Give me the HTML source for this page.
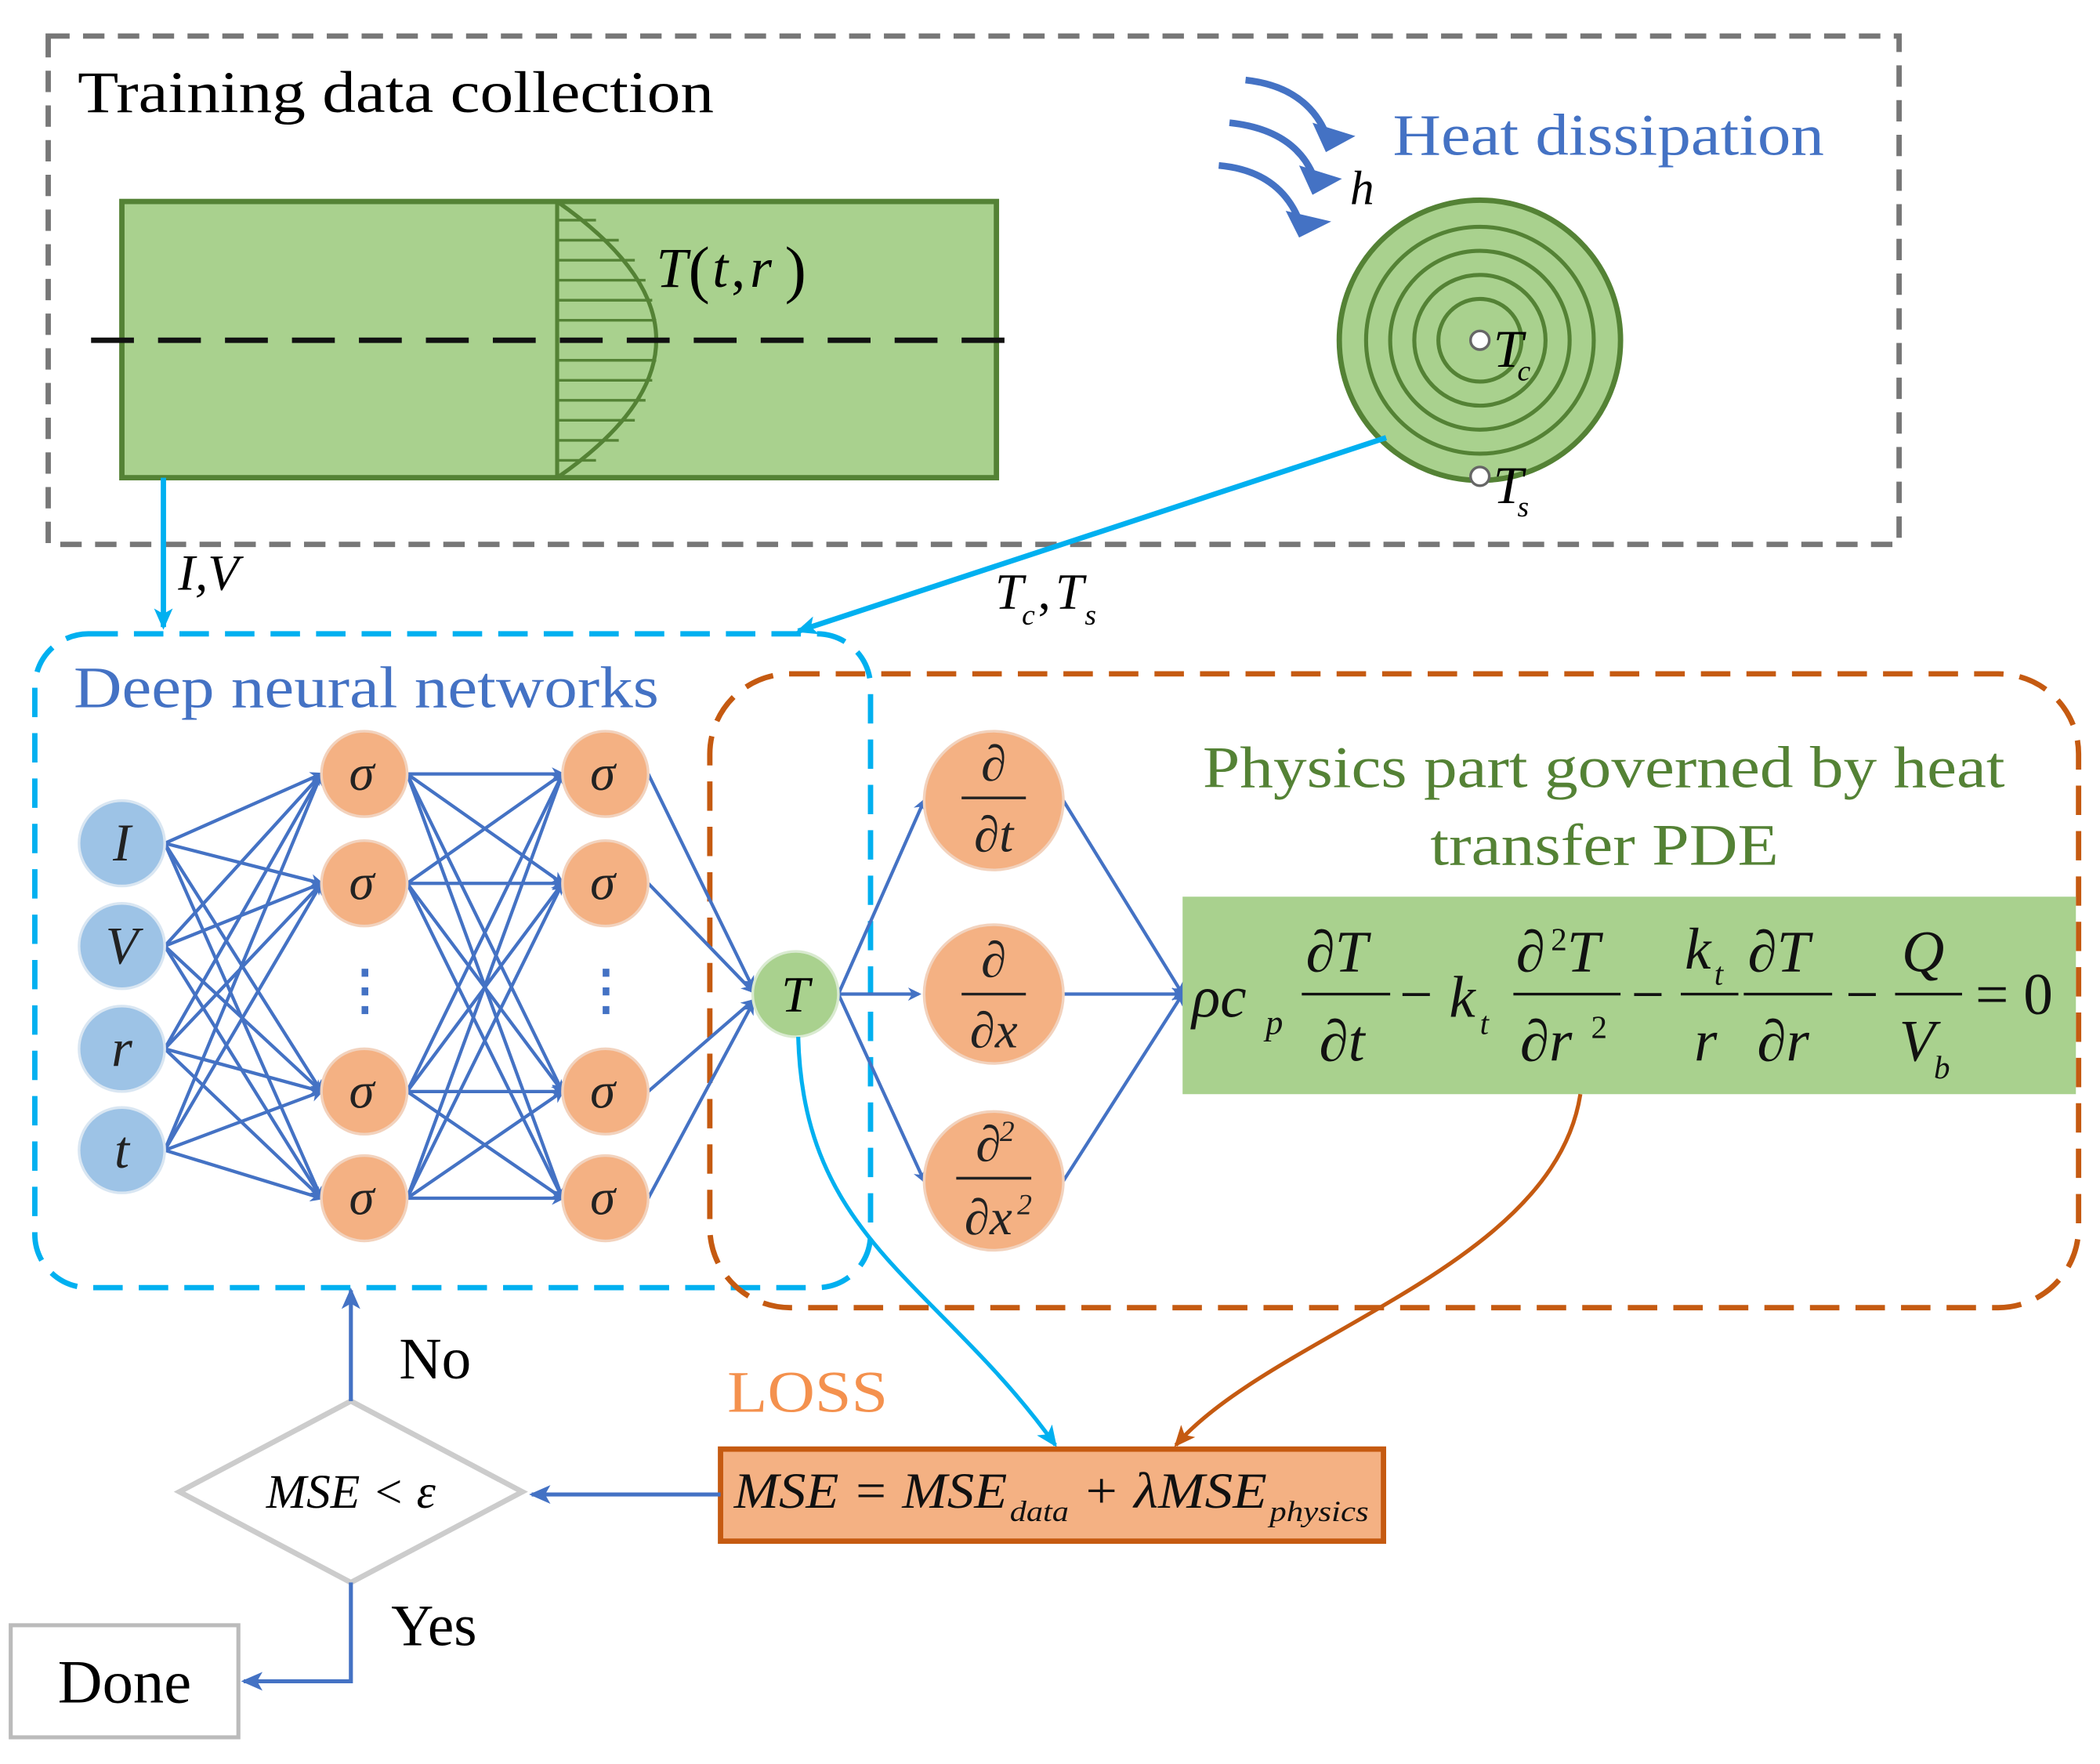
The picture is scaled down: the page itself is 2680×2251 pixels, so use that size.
<!DOCTYPE html>
<html><head><meta charset="utf-8"><style>
html,body{margin:0;padding:0;background:#fff}
svg{display:block}
text{font-family:"Liberation Serif",serif}
.it{font-style:italic}
</style></head><body>
<svg width="2680" height="2251" viewBox="0 0 1568 1322" preserveAspectRatio="none" xmlns="http://www.w3.org/2000/svg">
<defs>
<marker id="ab" markerWidth="10" markerHeight="10" refX="8" refY="5" orient="auto" markerUnits="userSpaceOnUse"><path d="M0,0 L10,5 L0,10 L3,5Z" fill="#4472c4"/></marker>
<marker id="ac" markerWidth="16" markerHeight="14" refX="14" refY="7" orient="auto" markerUnits="userSpaceOnUse"><path d="M0,0 L16,7 L0,14 L4,7Z" fill="#00b0f0"/></marker>
<marker id="ao" markerWidth="16" markerHeight="14" refX="14" refY="7" orient="auto" markerUnits="userSpaceOnUse"><path d="M0,0 L16,7 L0,14 L4,7Z" fill="#c55a11"/></marker>
<marker id="ab2" markerWidth="16" markerHeight="14" refX="14" refY="7" orient="auto" markerUnits="userSpaceOnUse"><path d="M0,0 L16,7 L0,14 L4,7Z" fill="#4472c4"/></marker>
</defs>
<rect width="1568" height="1322" fill="#fff"/>
<rect x="36" y="27" width="1382" height="381" fill="none" stroke="#777" stroke-width="4" stroke-dasharray="16,10"/>
<text x="58" y="84" font-size="44" textLength="475" lengthAdjust="spacingAndGlyphs">Training data collection</text>
<rect x="91" y="151" width="653" height="207" fill="#a9d18e" stroke="#548235" stroke-width="4"/>
<g stroke="#548235" stroke-width="2">
<line x1="416" y1="165" x2="445" y2="165"/><line x1="416" y1="180" x2="462" y2="180"/><line x1="416" y1="195" x2="474" y2="195"/><line x1="416" y1="210" x2="482" y2="210"/><line x1="416" y1="225" x2="487" y2="225"/><line x1="416" y1="240" x2="490" y2="240"/><line x1="416" y1="270" x2="490" y2="270"/><line x1="416" y1="285" x2="487" y2="285"/><line x1="416" y1="300" x2="482" y2="300"/><line x1="416" y1="315" x2="474" y2="315"/><line x1="416" y1="330" x2="462" y2="330"/><line x1="416" y1="345" x2="445" y2="345"/>
</g>
<line x1="416" y1="151" x2="416" y2="358" stroke="#548235" stroke-width="3"/>
<path d="M416,151 Q564,255 416,358" fill="none" stroke="#548235" stroke-width="3"/>
<line x1="68" y1="255" x2="768" y2="255" stroke="#111" stroke-width="4" stroke-dasharray="32,18"/>
<text x="490" y="215" font-size="42" class="it">T</text><text x="514" y="218" font-size="48">(</text><text x="532" y="215" font-size="42" class="it">t</text><text x="546" y="215" font-size="42">,</text><text x="560" y="215" font-size="42" class="it">r</text><text x="586" y="218" font-size="48">)</text>
<circle cx="1105" cy="255" r="105" fill="#a9d18e" stroke="#548235" stroke-width="4"/>
<g fill="none" stroke="#548235" stroke-width="3">
<circle cx="1105" cy="255" r="85"/><circle cx="1105" cy="255" r="67"/><circle cx="1105" cy="255" r="49"/><circle cx="1105" cy="255" r="31"/></g>
<circle cx="1105" cy="255" r="7" fill="#fff" stroke="#666" stroke-width="2"/>
<circle cx="1105" cy="357" r="7" fill="#fff" stroke="#666" stroke-width="2"/>
<text x="1115" y="275" font-size="40" class="it">T</text><text x="1133" y="285" font-size="22" class="it">c</text>
<text x="1115" y="377" font-size="40" class="it">T</text><text x="1133" y="387" font-size="22" class="it">s</text>
<g fill="none" stroke="#4472c4" stroke-width="5">
<path d="M930,60 Q975,65 990,100"/><path d="M918,92 Q965,97 980,130"/><path d="M910,124 Q955,128 970,165"/></g>
<path d="M980,92 L1012,102 L990,114Z" fill="#4472c4"/><path d="M970,124 L1002,134 L980,146Z" fill="#4472c4"/><path d="M960,158 L994,166 L970,178Z" fill="#4472c4"/>
<text x="1040" y="116" font-size="44" fill="#4472c4" textLength="322" lengthAdjust="spacingAndGlyphs">Heat dissipation</text>
<text x="1008" y="153" font-size="36" class="it">h</text>
<line x1="122" y1="358" x2="122" y2="470" stroke="#00b0f0" stroke-width="4" marker-end="url(#ac)"/>
<text x="133" y="442" font-size="38" class="it">I,V</text>
<line x1="1035" y1="328" x2="596" y2="473" stroke="#00b0f0" stroke-width="4" marker-end="url(#ac)"/>
<text x="743" y="456" font-size="38" class="it">T</text><text x="763" y="468" font-size="22" class="it">c</text><text x="775" y="456" font-size="38">,</text><text x="788" y="456" font-size="38" class="it">T</text><text x="810" y="468" font-size="22" class="it">s</text>
<rect x="26" y="475" width="624" height="490" rx="40" fill="none" stroke="#00b0f0" stroke-width="4" stroke-dasharray="22,12"/>
<text x="55" y="530" font-size="44" fill="#4472c4" textLength="437" lengthAdjust="spacingAndGlyphs">Deep neural networks</text>
<rect x="530" y="505" width="1022" height="475" rx="60" fill="none" stroke="#c55a11" stroke-width="4" stroke-dasharray="22,12"/>
<text x="898" y="590" font-size="44" fill="#548235" textLength="599" lengthAdjust="spacingAndGlyphs">Physics part governed by heat</text>
<text x="1068" y="648" font-size="44" fill="#548235" textLength="260" lengthAdjust="spacingAndGlyphs">transfer PDE</text>
<g stroke="#4472c4" stroke-width="2.5" marker-end="url(#ab)">
<line x1="123" y1="632" x2="240" y2="580"/><line x1="123" y1="632" x2="240" y2="662"/><line x1="123" y1="632" x2="240" y2="818"/><line x1="123" y1="632" x2="240" y2="898"/>
<line x1="123" y1="709" x2="240" y2="580"/><line x1="123" y1="709" x2="240" y2="662"/><line x1="123" y1="709" x2="240" y2="818"/><line x1="123" y1="709" x2="240" y2="898"/>
<line x1="123" y1="786" x2="240" y2="580"/><line x1="123" y1="786" x2="240" y2="662"/><line x1="123" y1="786" x2="240" y2="818"/><line x1="123" y1="786" x2="240" y2="898"/>
<line x1="123" y1="862" x2="240" y2="580"/><line x1="123" y1="862" x2="240" y2="662"/><line x1="123" y1="862" x2="240" y2="818"/><line x1="123" y1="862" x2="240" y2="898"/>
<line x1="304" y1="580" x2="420" y2="580"/><line x1="304" y1="580" x2="420" y2="662"/><line x1="304" y1="580" x2="420" y2="818"/><line x1="304" y1="580" x2="420" y2="898"/>
<line x1="304" y1="662" x2="420" y2="580"/><line x1="304" y1="662" x2="420" y2="662"/><line x1="304" y1="662" x2="420" y2="818"/><line x1="304" y1="662" x2="420" y2="898"/>
<line x1="304" y1="818" x2="420" y2="580"/><line x1="304" y1="818" x2="420" y2="662"/><line x1="304" y1="818" x2="420" y2="818"/><line x1="304" y1="818" x2="420" y2="898"/>
<line x1="304" y1="898" x2="420" y2="580"/><line x1="304" y1="898" x2="420" y2="662"/><line x1="304" y1="898" x2="420" y2="818"/><line x1="304" y1="898" x2="420" y2="898"/>
<line x1="484" y1="580" x2="562" y2="740"/><line x1="484" y1="662" x2="562" y2="743"/><line x1="484" y1="818" x2="562" y2="750"/><line x1="484" y1="898" x2="562" y2="752"/>
<line x1="626" y1="745" x2="690" y2="600"/><line x1="626" y1="745" x2="686" y2="745"/><line x1="626" y1="745" x2="690" y2="885"/>
<line x1="794" y1="600" x2="883" y2="745"/><line x1="794" y1="745" x2="883" y2="745"/><line x1="794" y1="885" x2="883" y2="745"/>
</g>
<g fill="#9dc3e6" stroke="#d9e6f2" stroke-width="2">
<circle cx="91" cy="632" r="32"/><circle cx="91" cy="709" r="32"/><circle cx="91" cy="786" r="32"/><circle cx="91" cy="862" r="32"/></g>
<g font-size="40" class="it" text-anchor="middle" fill="#222">
<text x="91" y="645">I</text><text x="91" y="722">V</text><text x="91" y="799">r</text><text x="91" y="875">t</text></g>
<g fill="#f4b183" stroke="#f2d2bd" stroke-width="2">
<circle cx="272" cy="580" r="32"/><circle cx="272" cy="662" r="32"/><circle cx="272" cy="818" r="32"/><circle cx="272" cy="898" r="32"/>
<circle cx="452" cy="580" r="32"/><circle cx="452" cy="662" r="32"/><circle cx="452" cy="818" r="32"/><circle cx="452" cy="898" r="32"/>
<circle cx="742" cy="600" r="52"/><circle cx="742" cy="745" r="52"/><circle cx="742" cy="885" r="52"/></g>
<g font-size="38" class="it" text-anchor="middle" fill="#222">
<text x="270" y="592">σ</text><text x="270" y="674">σ</text><text x="270" y="830">σ</text><text x="270" y="910">σ</text>
<text x="450" y="592">σ</text><text x="450" y="674">σ</text><text x="450" y="830">σ</text><text x="450" y="910">σ</text></g>
<g fill="#4472c4"><rect x="270" y="726" width="5" height="6"/><rect x="270" y="740" width="5" height="6"/><rect x="270" y="754" width="5" height="6"/>
<rect x="450" y="726" width="5" height="6"/><rect x="450" y="740" width="5" height="6"/><rect x="450" y="754" width="5" height="6"/></g>
<circle cx="594" cy="745" r="32" fill="#a9d18e" stroke="#d9ead0" stroke-width="2"/>
<text x="594" y="758" font-size="38" class="it" text-anchor="middle">T</text>
<g font-size="38" class="it" text-anchor="middle" fill="#222">
<text x="742" y="585">∂</text><line x1="718" y1="598" x2="766" y2="598" stroke="#222" stroke-width="2"/><text x="742" y="638">∂t</text>
<text x="742" y="732">∂</text><line x1="718" y1="745" x2="766" y2="745" stroke="#222" stroke-width="2"/><text x="742" y="785">∂x</text>
<text x="738" y="870">∂</text><text x="752" y="855" font-size="22">2</text><line x1="714" y1="883" x2="770" y2="883" stroke="#222" stroke-width="2"/><text x="738" y="925">∂x</text><text x="765" y="910" font-size="22">2</text></g>
<rect x="883" y="672" width="667" height="148" fill="#a9d18e"/>
<g font-size="44" class="it" fill="#111">
<text x="890" y="762">ρc</text><text x="945" y="775" font-size="26">p</text>
<text x="975" y="728">∂T</text><line x1="972" y1="745" x2="1038" y2="745" stroke="#111" stroke-width="2"/><text x="985" y="795">∂t</text>
<text x="1045" y="760" font-style="normal">−</text><text x="1082" y="762">k</text><text x="1105" y="775" font-size="24">t</text>
<text x="1132" y="728">∂</text><text x="1158" y="712" font-size="24" font-style="normal">2</text><text x="1170" y="728">T</text>
<line x1="1130" y1="745" x2="1210" y2="745" stroke="#111" stroke-width="2"/><text x="1135" y="795">∂r</text><text x="1188" y="778" font-size="24" font-style="normal">2</text>
<text x="1218" y="760" font-style="normal">−</text>
<text x="1258" y="726">k</text><text x="1280" y="738" font-size="24">t</text><line x1="1255" y1="745" x2="1298" y2="745" stroke="#111" stroke-width="2"/><text x="1265" y="795">r</text>
<text x="1305" y="728">∂T</text><line x1="1302" y1="745" x2="1368" y2="745" stroke="#111" stroke-width="2"/><text x="1312" y="795">∂r</text>
<text x="1378" y="760" font-style="normal">−</text>
<text x="1420" y="728">Q</text><line x1="1415" y1="745" x2="1465" y2="745" stroke="#111" stroke-width="2"/><text x="1418" y="795">V</text><text x="1444" y="808" font-size="24">b</text>
<text x="1475" y="760" font-style="normal">= 0</text></g>
<path d="M596,777 C600,930 700,960 788,1083" fill="none" stroke="#00b0f0" stroke-width="3" marker-end="url(#ac)"/>
<path d="M1180,820 C1160,950 950,1000 878,1083" fill="none" stroke="#c55a11" stroke-width="3" marker-end="url(#ao)"/>
<text x="543" y="1058" font-size="44" fill="#f4914e" textLength="120" lengthAdjust="spacingAndGlyphs">LOSS</text>
<rect x="538" y="1086" width="495" height="69" fill="#f4b183" stroke="#c55a11" stroke-width="4"/>
<g font-size="38" class="it" fill="#111">
<text x="548" y="1130" textLength="204" lengthAdjust="spacingAndGlyphs">MSE = MSE</text><text x="754" y="1140" font-size="22" textLength="44" lengthAdjust="spacingAndGlyphs">data</text><text x="808" y="1130" textLength="138" lengthAdjust="spacingAndGlyphs">+ λMSE</text><text x="948" y="1140" font-size="22" textLength="74" lengthAdjust="spacingAndGlyphs">physics</text></g>
<line x1="538" y1="1120" x2="397" y2="1120" stroke="#4472c4" stroke-width="3" marker-end="url(#ab2)"/>
<polygon points="262,1050 390,1118 262,1186 134,1118" fill="#fff" stroke="#ccc" stroke-width="4"/>
<text x="262" y="1130" font-size="36" class="it" text-anchor="middle">MSE &lt; ε</text>
<line x1="262" y1="1050" x2="262" y2="967" stroke="#4472c4" stroke-width="3" marker-end="url(#ab2)"/>
<text x="298" y="1033" font-size="44">No</text>
<polyline points="262,1186 262,1260 182,1260" fill="none" stroke="#4472c4" stroke-width="3" marker-end="url(#ab2)"/>
<text x="292" y="1233" font-size="44">Yes</text>
<rect x="8" y="1218" width="170" height="84" fill="#fff" stroke="#bbb" stroke-width="3"/>
<text x="93" y="1276" font-size="46" text-anchor="middle">Done</text>
</svg>
</body></html>
